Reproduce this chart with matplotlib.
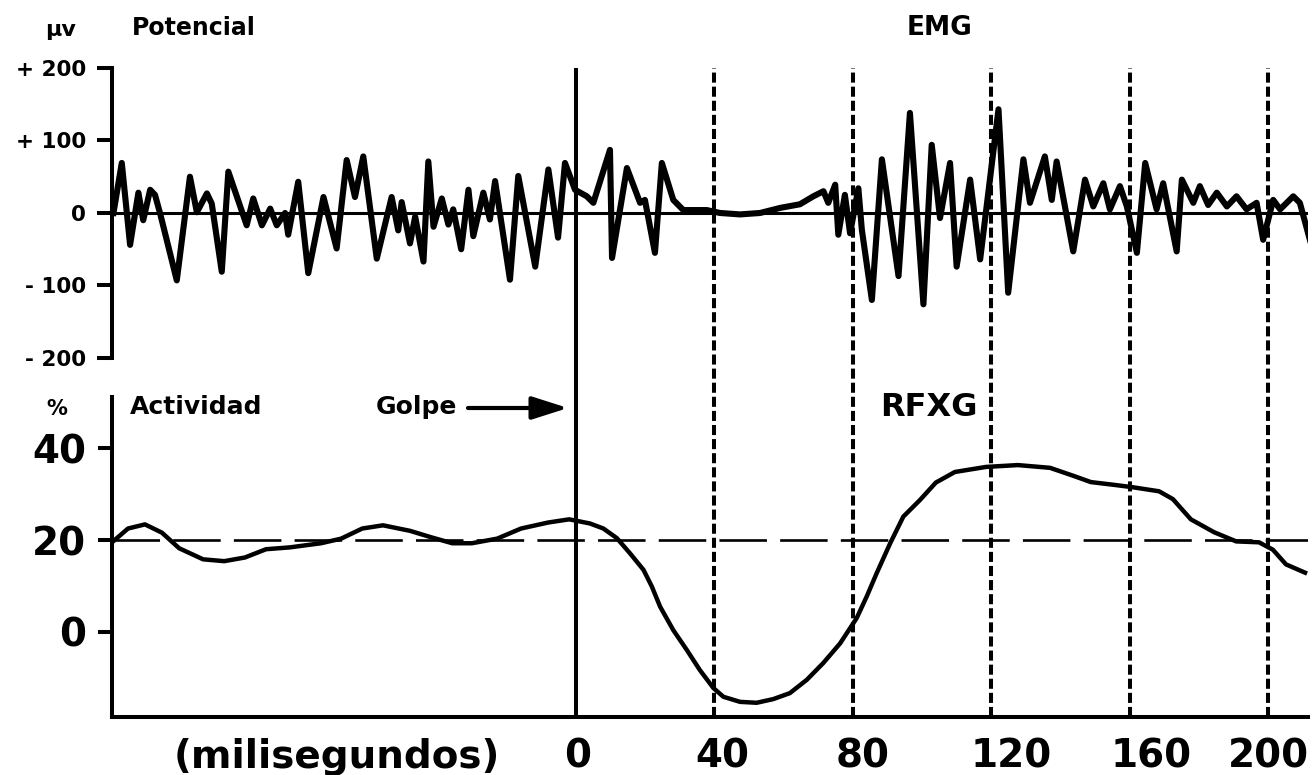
import matplotlib
matplotlib.use('Agg')
import matplotlib.pyplot as plt
import matplotlib.transforms as mtransforms

plt.rcParams['font.family'] = ['DejaVu Sans']
plt.rcParams['font.weight'] = 'bold'

# ---- data (time in ms) ----
emg_t = [-133.7, -131.3, -128.9, -126.5, -125.1, -123.1, -121.7, -120.2, -115.4, -111.6,
         -109.6, -106.7, -105.3, -102.4, -100.5, -95.2, -93.3, -90.8, -88.4, -86.5,
         -84.1, -83.2, -80.3, -77.4, -73.0, -69.2, -66.3, -63.9, -61.5, -57.6,
         -53.3, -51.4, -50.4, -48.0, -46.5, -44.1, -42.7, -41.2, -38.8, -36.9,
         -35.5, -33.2, -31.1, -29.7, -26.8, -24.9, -23.4, -19.1, -16.7, -11.8,
         -8.0, -5.2, -3.2, -0.3, 3.1, 5.0, 9.8, 10.4, 14.7, 18.5,
         19.9, 22.8, 24.8, 28.1, 31.0, 37.8, 41.6, 47.4, 53.2, 59.0,
         64.7, 68.6, 71.5, 72.9, 74.9, 75.8, 77.7, 79.2, 81.6, 82.6,
         85.5, 88.4, 93.2, 96.5, 100.4, 102.8, 105.2, 108.1, 110.0, 113.9,
         116.8, 122.1, 124.9, 129.3, 131.2, 135.5, 137.5, 138.9, 143.7, 147.1,
         149.5, 152.4, 154.3, 157.2, 159.2, 162.1, 164.5, 167.8, 169.7, 173.6,
         175.1, 178.4, 180.3, 182.7, 185.2, 188.1, 190.9, 193.8, 196.7, 198.6,
         201.5, 203.5, 207.3, 209.2, 212.1]
emg_v = [0, 69, -44, 28, -10, 32, 25, -1, -93, 50,
         1, 27, 13, -81, 57, -17, 20, -17, 6, -17,
         0, -30, 43, -83, 22, -49, 73, 22, 78, -63,
         22, -24, 15, -42, -5, -67, 71, -19, 20, -16,
         5, -50, 32, -32, 28, -9, 44, -92, 51, -74,
         60, -34, 69, 32, 23, 14, 87, -62, 62, 14,
         18, -55, 69, 18, 4, 4, 0, -2, 0, 7,
         12, 23, 30, 14, 39, -30, 25, -28, 34, -23,
         -120, 74, -87, 138, -126, 94, -7, 69, -74, 46,
         -64, 143, -110, 74, 14, 78, 18, 71, -53, 46,
         9, 41, 5, 37, 9, -55, 69, 5, 41, -53,
         46, 14, 37, 11, 28, 9, 23, 5, 14, -37,
         18, 5, 23, 14, -37]

act_t = [-133.5, -129.5, -124.6, -119.7, -114.7, -107.8, -101.7, -95.7, -89.6, -82.7,
         -73.7, -67.9, -61.8, -55.8, -48.0, -41.9, -35.8, -30.1, -22.8, -15.9,
         -8.1, -2.0, 4.0, 7.9, 11.8, 15.6, 19.5, 21.9, 24.3, 28.1,
         32.0, 35.8, 39.7, 42.6, 47.4, 52.2, 57.0, 61.8, 66.7, 71.4,
         76.3, 81.1, 84.0, 86.9, 90.8, 94.6, 99.4, 104.0, 109.5, 118.5,
         127.7, 137.0, 143.6, 148.8, 155.5, 160.7, 168.5, 172.5, 177.7, 184.4,
         190.8, 197.4, 201.4, 205.2, 210.7]
act_v = [19.9, 22.5, 23.4, 21.6, 18.2, 15.8, 15.4, 16.2, 18.0, 18.4,
         19.3, 20.3, 22.5, 23.2, 22.0, 20.6, 19.3, 19.3, 20.3, 22.5,
         23.8, 24.5, 23.6, 22.5, 20.4, 17.1, 13.5, 9.9, 5.5, 0.4,
         -3.9, -8.3, -12.2, -14.1, -15.2, -15.4, -14.6, -13.3, -10.4, -6.8,
         -2.5, 3.0, 7.7, 12.8, 19.3, 25.1, 28.7, 32.5, 34.8, 35.9,
         36.3, 35.7, 34.0, 32.6, 32.0, 31.5, 30.6, 28.9, 24.5, 21.7,
         19.7, 19.5, 17.9, 14.7, 12.9]

emg_yticks = [200, 100, 0, -100, -200]
emg_ylabels = ['+ 200', '+ 100', '0', '- 100', '- 200']
act_yticks = [40, 20, 0]
act_ylabels = ['40', '20', '0']
time_ticks = [0, 40, 80, 120, 160, 200]
time_labels = ['0', '40', '80', '120', '160', '200']
marker_lines = [40, 80, 120, 160, 200]
baseline_pct = 20

# ---- figure ----
fig = plt.figure(figsize=(13.12, 7.75), dpi=100)
xlim = (-134, 211.5)
L, W = 0.0857, 0.9111
ax1 = fig.add_axes([L, 0.5381, W, 0.3742])
ax2 = fig.add_axes([L, 0.0748, W, 0.4129])
ov = fig.add_axes([L, 0.0748, W, 0.9123 - 0.0748])

# top: EMG
ax1.plot(emg_t, emg_v, color='black', lw=4.4, solid_joinstyle='round')
ax1.axhline(0, color='black', lw=2.2)
ax1.set_xlim(xlim)
ax1.set_ylim(-200, 200)
for s in ['top', 'right', 'bottom']:
    ax1.spines[s].set_visible(False)
ax1.spines['left'].set_linewidth(2.9)
ax1.set_xticks([])
ax1.set_yticks(emg_yticks)
ax1.set_yticklabels(emg_ylabels)
ax1.tick_params(axis='y', length=11, width=2.9, pad=8, labelsize=15.5)
ax1.patch.set_alpha(0)

# bottom: activity
ax2.plot(act_t, act_v, color='black', lw=3.2, solid_joinstyle='round')
ax2.axhline(baseline_pct, color='black', lw=1.9, ls=(0, (18, 5)))
ax2.set_xlim(xlim)
ax2.set_ylim(-18.5, 51.1)
for s in ['top', 'right']:
    ax2.spines[s].set_visible(False)
ax2.spines['left'].set_linewidth(2.9)
ax2.spines['bottom'].set_linewidth(2.9)
ax2.set_xticks([])
ax2.set_yticks(act_yticks)
ax2.set_yticklabels(act_ylabels)
ax2.tick_params(axis='y', length=10, width=2.9, pad=9, labelsize=28)
ax2.patch.set_alpha(0)

# x labels below the bottom axis
label_shift_px = [2, 8, 10, 20, 22, 0]
base = mtransforms.blended_transform_factory(ax2.transData, fig.transFigure)
for t, lab, sh in zip(time_ticks, time_labels, label_shift_px):
    tr = base + mtransforms.ScaledTranslation(sh / 100, 0, fig.dpi_scale_trans)
    ax2.text(t, 1 - 768 / 775, lab, transform=tr, ha='center', va='baseline',
             fontsize=28, fontweight='bold', clip_on=False)
fig.text(337 / 1312, 1 - 768 / 775, '(milisegundos)', ha='center', va='baseline',
         fontsize=28, fontweight='bold')

# vertical markers spanning both panels
ov.axis('off')
ov.set_xlim(xlim)
ov.set_ylim(0, 1)
ov.axvline(0, color='black', lw=2.9)
for t in marker_lines:
    ov.axvline(t, color='black', lw=2.9, ls=(0, (2.5, 1.0)))

# annotations
fig.text(61 / 1312, 1 - 30 / 775, 'µv', ha='center', va='center', fontsize=16)
fig.text(132 / 1312, 1 - 28 / 775, 'Potencial', ha='left', va='center', fontsize=17)
fig.text(940 / 1312, 1 - 28 / 775, 'EMG', ha='center', va='center', fontsize=19)
fig.text(57 / 1312, 1 - 409 / 775, '%', ha='center', va='center', fontsize=15)
fig.text(130 / 1312, 1 - 407 / 775, 'Actividad', ha='left', va='center', fontsize=18)
fig.text(376 / 1312, 1 - 407 / 775, 'Golpe', ha='left', va='center', fontsize=18)
fig.text(880 / 1312, 1 - 408 / 775, 'RFXG', ha='left', va='center', fontsize=23)
fig.patches.append(matplotlib.patches.FancyArrowPatch(
    (468 / 1312, 1 - 408 / 775), (568 / 1312, 1 - 408 / 775),
    transform=fig.transFigure, arrowstyle='-|>,head_length=1.1,head_width=0.35',
    mutation_scale=20, lw=3, color='black', shrinkA=0, shrinkB=0))

fig.savefig('out.png', dpi=100, facecolor='white')
